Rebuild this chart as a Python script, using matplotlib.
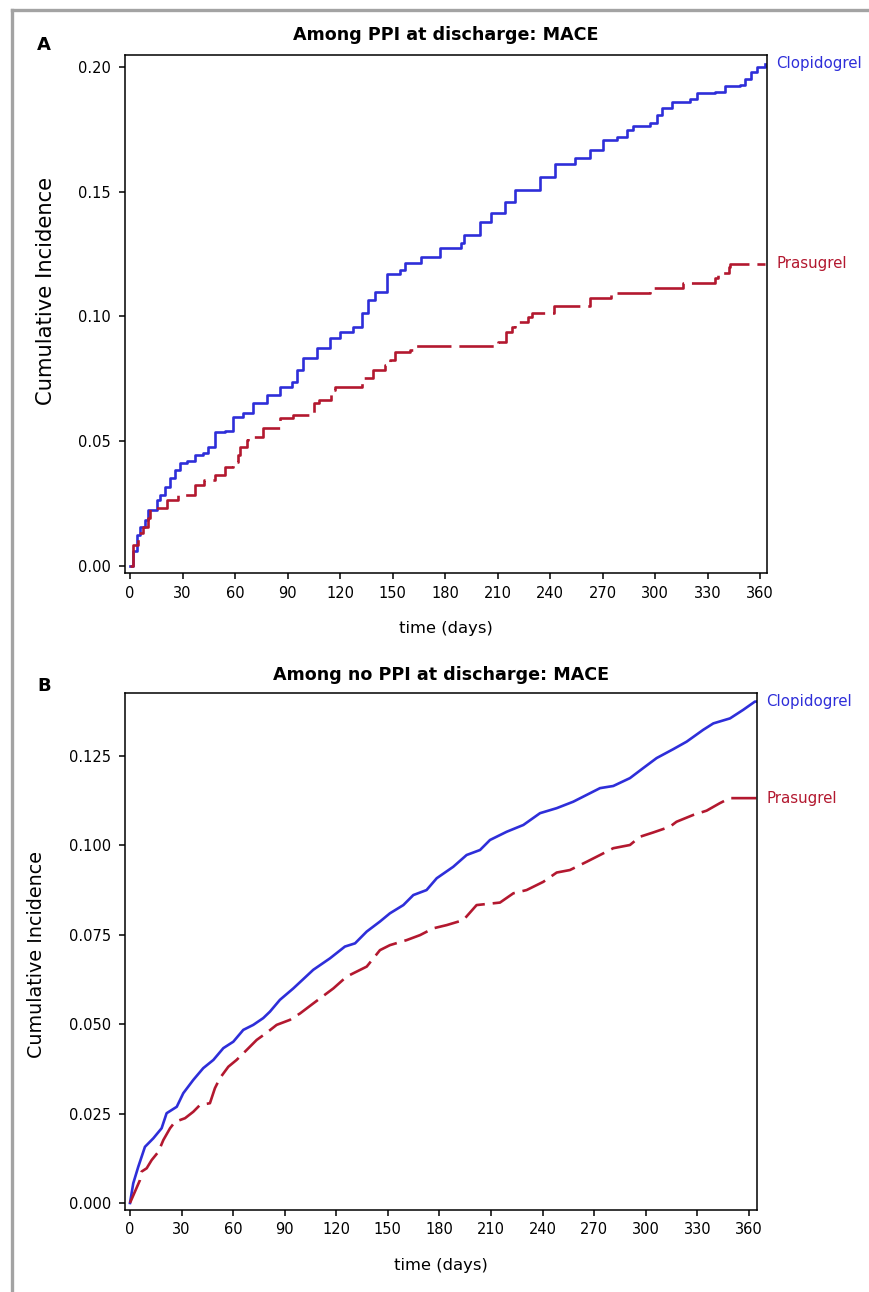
"""
Cumulative incidence of MACE, clopidogrel vs prasugrel, by PPI at discharge.
"""

import matplotlib
matplotlib.use("Agg")
import matplotlib.pyplot as plt
from matplotlib.lines import Line2D


# Panel A: among PPI at discharge (step points)
A_CLOP_T = [0, 1.9, 3.8, 5.7, 8.6, 10.5, 15.2, 17, 20, 22.9, 25.7, 28.6, 32.4,
            37, 41.9, 44.8, 48.6, 54.3, 59, 64.8, 70.5, 78, 85.7, 92.4, 95.2,
            99, 106.7, 114.3, 120, 127.6, 132.4, 136.2, 140, 147, 154, 157,
            166, 177, 189, 191, 200, 206, 214, 220, 234, 243, 254, 263, 270.5,
            278, 283.8, 287.6, 297, 301, 303.8, 309.5, 320, 323.8, 334.3, 340,
            348.6, 351.4, 355, 358, 362.8]
A_CLOP_V = [0, 0.006, 0.0124, 0.0158, 0.0184, 0.0224, 0.0265, 0.0285, 0.0318,
            0.0353, 0.0385, 0.0412, 0.0422, 0.0445, 0.0454, 0.0478, 0.0538,
            0.0541, 0.0598, 0.0612, 0.0652, 0.0685, 0.0719, 0.0739, 0.0786,
            0.0832, 0.0873, 0.0913, 0.0939, 0.0959, 0.1013, 0.1066, 0.1100,
            0.1170, 0.1186, 0.1214, 0.1240, 0.1275, 0.1295, 0.1327, 0.1379,
            0.1415, 0.1459, 0.1507, 0.1560, 0.1610, 0.1635, 0.1667, 0.1707,
            0.1720, 0.1747, 0.1764, 0.1774, 0.1808, 0.1834, 0.1860, 0.1870,
            0.1897, 0.1900, 0.1924, 0.1928, 0.1950, 0.1980, 0.2000, 0.2012]
A_CLOP_END = 363

A_PRAS_T = [0, 1.9, 4.8, 7.6, 10.5, 11.4, 21, 27.6, 37.1, 42, 48.6, 54.3, 59,
            61.9, 62.9, 66.7, 67.6, 76.2, 85.7, 93, 105, 108, 115, 117, 132.4,
            139, 145.7, 148.6, 151.4, 160, 162.9, 210.5, 215, 218, 220, 227.6,
            229.5, 242, 263, 275, 297, 316, 334, 336, 342, 343]
A_PRAS_V = [0, 0.0084, 0.0131, 0.0158, 0.0191, 0.0231, 0.0265, 0.0285, 0.0325,
            0.0345, 0.0365, 0.0398, 0.0418, 0.0445, 0.0478, 0.0505, 0.0518,
            0.0552, 0.0592, 0.0605, 0.0652, 0.0665, 0.0705, 0.0719, 0.0752,
            0.0786, 0.0806, 0.0826, 0.0859, 0.0866, 0.0882, 0.0899, 0.0939,
            0.0959, 0.0979, 0.0999, 0.1015, 0.1042, 0.1074, 0.1094, 0.1113,
            0.1133, 0.1153, 0.1174, 0.1200, 0.1212]
A_PRAS_END = 363

# Panel B: among no PPI at discharge (many tiny steps, read as a trace)
B_CLOP_T = [0, 1.9, 4.8, 8.7, 13.6, 18.4, 21.3, 27.2, 31, 36.8, 42.6, 48.5,
            54.3, 60.1, 65.9, 71.7, 77.5, 81.4, 87.2, 95, 106.6, 116.3, 125,
            130.9, 137.7, 145.4, 151.2, 159, 164.8, 172.5, 178.4, 188, 195.8,
            203.6, 209.4, 219.1, 228.8, 238.5, 248.2, 257.8, 265.6, 273.4,
            281.1, 290.8, 298.5, 306.3, 316, 323.8, 333.4, 339.3, 349, 356.7,
            363.5]
B_CLOP_V = [0, 0.0055, 0.0101, 0.0157, 0.0181, 0.0209, 0.0251, 0.0269, 0.0307,
            0.0344, 0.0377, 0.0400, 0.0433, 0.0451, 0.0484, 0.0498, 0.0517,
            0.0535, 0.0568, 0.0600, 0.0652, 0.0684, 0.0717, 0.0726, 0.0759,
            0.0787, 0.0810, 0.0833, 0.0861, 0.0875, 0.0908, 0.0940, 0.0973,
            0.0987, 0.1015, 0.1038, 0.1057, 0.1090, 0.1104, 0.1122, 0.1141,
            0.1160, 0.1166, 0.1188, 0.1216, 0.1244, 0.1269, 0.1290, 0.1323,
            0.1341, 0.1355, 0.1379, 0.1402]
B_CLOP_END = 364.5

B_PRAS_T = [0, 2.9, 5.8, 6.8, 9.7, 12.6, 16.5, 19.4, 23.3, 26.2, 32, 36.8, 40.7,
            46.5, 49.4, 52.3, 57.2, 62, 67.9, 73.7, 79.5, 85.3, 93, 98.9, 106.6,
            118.3, 126, 137.7, 145.4, 151.2, 160.9, 168.7, 176.4, 184.2, 193.9,
            201.6, 215.2, 223, 230.7, 240.4, 248.2, 255.9, 265.6, 273.4, 281.1,
            290.8, 296.6, 304.3, 314, 317.9, 327.6, 335.4, 343.1, 348.9]
B_PRAS_V = [0, 0.0032, 0.0064, 0.0088, 0.0097, 0.0120, 0.0143, 0.0176, 0.0209,
            0.0227, 0.0237, 0.0255, 0.0274, 0.0279, 0.0321, 0.0349, 0.0381,
            0.0400, 0.0428, 0.0456, 0.0476, 0.0498, 0.0512, 0.0530, 0.0558,
            0.0600, 0.0633, 0.0661, 0.0707, 0.0721, 0.0735, 0.0749, 0.0768,
            0.0777, 0.0791, 0.0833, 0.0840, 0.0866, 0.0875, 0.0898, 0.0924,
            0.0931, 0.0954, 0.0973, 0.0992, 0.1001, 0.1024, 0.1036, 0.1052,
            0.1066, 0.1085, 0.1097, 0.1118, 0.1132]
B_PRAS_END = 364.5

X_TICKS = list(range(0, 361, 30))
A_Y_TICKS = [0.00, 0.05, 0.10, 0.15, 0.20]
B_Y_TICKS = [0.000, 0.025, 0.050, 0.075, 0.100, 0.125]

BLUE = "#2e2ed9"
RED = "#b3182f"
FRAME_GRAY = "#a3a3a3"

W, H = 870, 1292


def apply_style():
    plt.rcParams.update({
        "font.family": "DejaVu Sans",
        "font.size": 10.5,
        "xtick.labelsize": 10.5,
        "ytick.labelsize": 10.5,
        "axes.linewidth": 1.1,
        "xtick.major.width": 1.1,
        "ytick.major.width": 1.1,
        "xtick.major.size": 4.5,
        "ytick.major.size": 4.5,
        "xtick.major.pad": 4.5,
        "ytick.major.pad": 5.5,
        "xtick.direction": "out",
        "ytick.direction": "out",
    })


def px_rect(left, top, right, bottom):
    return [left / W, 1 - bottom / H, (right - left) / W, (bottom - top) / H]


def draw_panel(ax, clop, pras, stepped, dash, title, yticks, yfmt, ylim, xlim,
               title_off):
    drawstyle = "steps-post" if stepped else "default"
    for (t, v, end), color, ls in ((clop, BLUE, "-"),
                                   (pras, RED, (0, dash))):
        ax.plot(t + [end], v + [v[-1]], drawstyle=drawstyle, color=color,
                linewidth=1.9, linestyle=ls)

    ax.set_xlim(*xlim)
    ax.set_ylim(*ylim)
    ax.set_xticks(X_TICKS)
    ax.set_yticks(yticks)
    ax.set_yticklabels([yfmt.format(v) for v in yticks])
    ax.set_xlabel("time (days)", fontsize=11.8, labelpad=15)
    ax.text(0.5, 1.0 + title_off, title, transform=ax.transAxes,
            ha="center", va="center", fontsize=12.6, fontweight="bold")

    for label, v, color in (("Clopidogrel", clop[1][-1], BLUE),
                            ("Prasugrel", pras[1][-1], RED)):
        ax.annotate(label, xy=(1.0, v), xycoords=("axes fraction", "data"),
                    xytext=(6.5, 0), textcoords="offset points",
                    ha="left", va="center", color=color, fontsize=10.8)


def main():
    apply_style()
    fig = plt.figure(figsize=(W / 100, H / 100), dpi=100)

    # gray frame on the top and left edges
    fig.add_artist(Line2D([12 / W, 12 / W], [0, 1 - 10 / H],
                          color=FRAME_GRAY, linewidth=2.4))
    fig.add_artist(Line2D([12 / W, 1], [1 - 10 / H, 1 - 10 / H],
                          color=FRAME_GRAY, linewidth=2.4))

    ax_a = fig.add_axes(px_rect(125, 55, 767, 573))
    draw_panel(ax_a, (A_CLOP_T, A_CLOP_V, A_CLOP_END),
               (A_PRAS_T, A_PRAS_V, A_PRAS_END), True, (13, 3),
               "Among PPI at discharge: MACE", A_Y_TICKS, "{:.2f}",
               (-0.0028, 0.2048), (-2.86, 364), 20 / 518)

    ax_b = fig.add_axes(px_rect(125, 693, 757, 1210))
    draw_panel(ax_b, (B_CLOP_T, B_CLOP_V, B_CLOP_END),
               (B_PRAS_T, B_PRAS_V, B_PRAS_END), False, (9.5, 3),
               "Among no PPI at discharge: MACE", B_Y_TICKS, "{:.3f}",
               (-0.00196, 0.1426), (-2.9, 364.7), 18 / 517)

    fig.text(46 / W, 1 - 291 / H, "Cumulative Incidence", rotation=90,
             ha="center", va="center", fontsize=15.2)
    fig.text(37 / W, 1 - 955 / H, "Cumulative Incidence", rotation=90,
             ha="center", va="center", fontsize=13.8)

    fig.text(44 / W, 1 - 45 / H, "A", ha="center", va="center",
             fontsize=13, fontweight="bold")
    fig.text(44 / W, 1 - 686 / H, "B", ha="center", va="center",
             fontsize=13, fontweight="bold")

    fig.savefig("out.png", dpi=100)
    plt.close(fig)


if __name__ == "__main__":
    main()
